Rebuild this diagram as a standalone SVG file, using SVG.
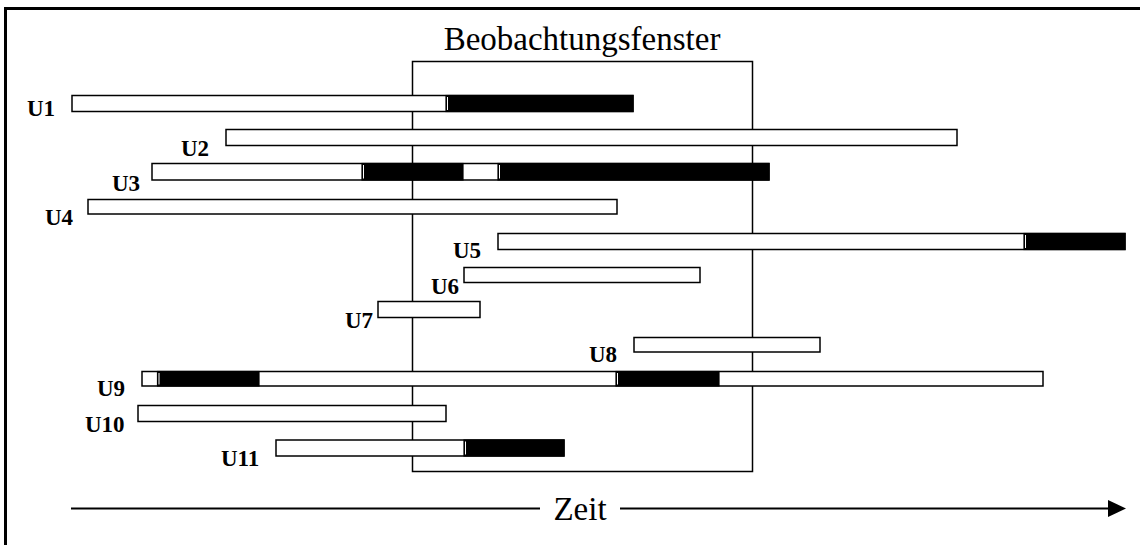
<svg xmlns="http://www.w3.org/2000/svg" width="1140" height="545" viewBox="0 0 1140 545">
<style>
.bar{fill:#fff;stroke:#000;stroke-width:1.5}
.blk{fill:#000;stroke:#000;stroke-width:1.2}
.sep{stroke:#fff;stroke-width:1}
.lbl{font-family:"Liberation Serif","Times New Roman",serif;font-weight:bold;font-size:23px;fill:#000}
.ttl{font-family:"Liberation Serif","Times New Roman",serif;font-size:33px;fill:#000}
</style>
<defs>
<marker id="ah" markerWidth="18" markerHeight="17" refX="0" refY="8.5" orient="auto" markerUnits="userSpaceOnUse">
<path d="M0,0 L18,8.5 L0,17 Z" fill="#000"/>
</marker>
</defs>
<rect width="1140" height="545" fill="#fff"/>
<path d="M5.5,545 V8.5 H1140" fill="none" stroke="#000" stroke-width="3"/>
<g id="window">
<rect x="412.5" y="61.5" width="340" height="410" fill="none" stroke="#000" stroke-width="1.5"/>
<text class="ttl" x="582" y="50" text-anchor="middle">Beobachtungsfenster</text>
</g>
<g id="U1">
<rect class="bar" x="72" y="95.5" width="561" height="16"/>
<rect class="blk" x="446" y="95.5" width="187" height="16"/>
<line class="sep" x1="447.5" y1="97" x2="447.5" y2="110"/>
<text class="lbl" x="27" y="116">U1</text>
</g>
<g id="U2">
<rect class="bar" x="226" y="129.5" width="731" height="16"/>
<text class="lbl" x="181" y="156">U2</text>
</g>
<g id="U3">
<rect class="bar" x="152" y="163.5" width="617" height="16.5"/>
<rect class="blk" x="362" y="163.5" width="101" height="16.5"/>
<rect class="blk" x="498" y="163.5" width="271" height="16.5"/>
<line class="sep" x1="363.5" y1="165" x2="363.5" y2="178.5"/>
<line class="sep" x1="499.5" y1="165" x2="499.5" y2="178.5"/>
<text class="lbl" x="112" y="191">U3</text>
</g>
<g id="U4">
<rect class="bar" x="88" y="199.5" width="529" height="14.5"/>
<text class="lbl" x="45" y="225">U4</text>
</g>
<g id="U5">
<rect class="bar" x="498" y="233.5" width="627" height="16"/>
<rect class="blk" x="1024" y="233.5" width="101" height="16"/>
<line class="sep" x1="1025.5" y1="235" x2="1025.5" y2="248"/>
<text class="lbl" x="453" y="258">U5</text>
</g>
<g id="U6">
<rect class="bar" x="464" y="267.5" width="236" height="15"/>
<text class="lbl" x="431" y="294">U6</text>
</g>
<g id="U7">
<rect class="bar" x="378" y="301.5" width="102" height="16"/>
<text class="lbl" x="345" y="328">U7</text>
</g>
<g id="U8">
<rect class="bar" x="634" y="337.5" width="186" height="14.5"/>
<text class="lbl" x="589" y="362">U8</text>
</g>
<g id="U9">
<rect class="bar" x="142" y="371.5" width="901" height="14.5"/>
<rect class="blk" x="157.5" y="371.5" width="101.5" height="14.5"/>
<rect class="blk" x="616" y="371.5" width="103" height="14.5"/>
<line class="sep" x1="159" y1="373" x2="159" y2="384.5"/>
<line class="sep" x1="617.5" y1="373" x2="617.5" y2="384.5"/>
<text class="lbl" x="97" y="396">U9</text>
</g>
<g id="U10">
<rect class="bar" x="138" y="405.5" width="308" height="16"/>
<text class="lbl" x="85" y="432">U10</text>
</g>
<g id="U11">
<rect class="bar" x="276" y="440" width="288" height="16"/>
<rect class="blk" x="464" y="440" width="100" height="16"/>
<line class="sep" x1="465.5" y1="441.5" x2="465.5" y2="454.5"/>
<text class="lbl" x="221" y="466">U11</text>
</g>
<g id="connectors">
<line x1="71" y1="508.5" x2="540" y2="508.5" stroke="#000" stroke-width="2"/>
<line x1="620" y1="508.5" x2="1108" y2="508.5" stroke="#000" stroke-width="2" marker-end="url(#ah)"/>
<text class="ttl" x="580" y="520" text-anchor="middle" font-size="34">Zeit</text>
</g>
</svg>
